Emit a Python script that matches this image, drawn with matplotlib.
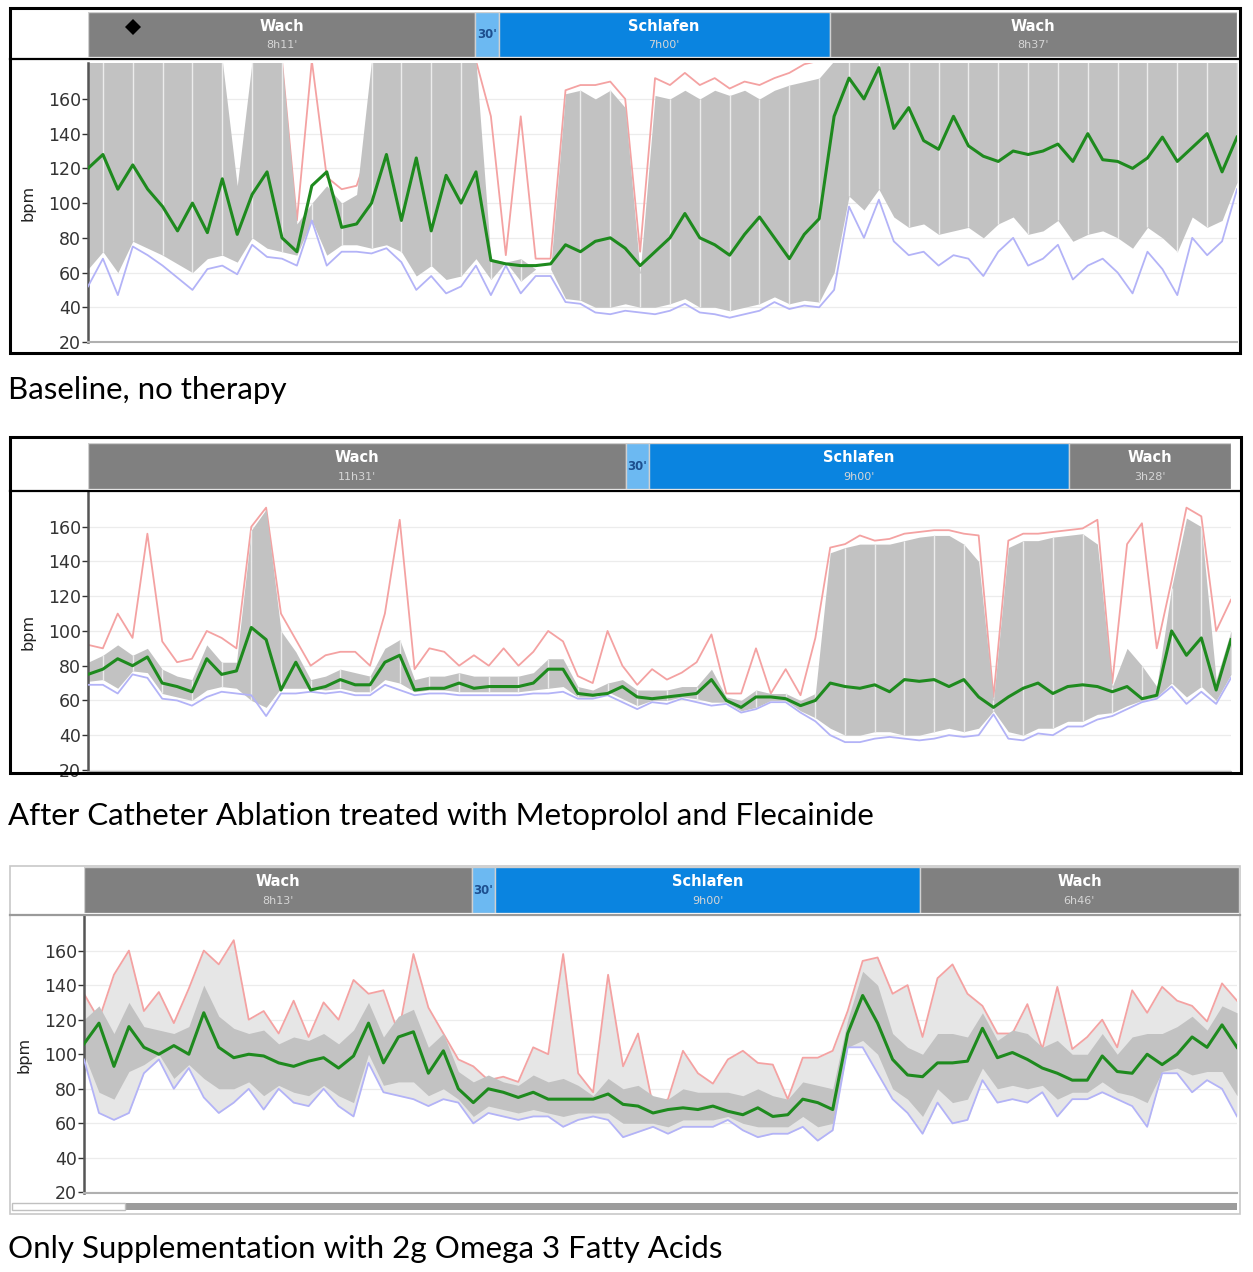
import numpy as np
import matplotlib
matplotlib.use("Agg")
import matplotlib.pyplot as plt
from matplotlib.patches import Rectangle

W, H = 1253, 1272

# ---- header segments (label, minutes, duration text) ----
seg_names = ["Wach", "30'", "Schlafen", "Wach"]
p1_minutes = [491, 30, 420, 517]
p1_dur_text = ["8h11'", "", "7h00'", "8h37'"]
p2_minutes = [691, 30, 540, 208]
p2_dur_text = ["11h31'", "", "9h00'", "3h28'"]
p3_minutes = [493, 30, 540, 406]
p3_dur_text = ["8h13'", "", "9h00'", "6h46'"]
p1_event_min = 57  # diamond marker in the header

# ---- panel 1: baseline, no therapy (bpm) ----
p1_mean = [120, 128, 108, 122, 108, 98, 84, 100, 83, 114,
           82, 105, 118, 80, 72, 110, 118, 86, 88, 100,
           128, 90, 126, 84, 116, 100, 118, 67, 65, 64,
           64, 65, 76, 72, 78, 80, 74, 64, 72, 80,
           94, 80, 76, 70, 82, 92, 80, 68, 82, 91,
           150, 172, 160, 178, 143, 155, 136, 131, 150, 133,
           127, 124, 130, 128, 130, 134, 124, 140, 125, 124,
           120, 126, 138, 124, 132, 140, 118, 138]
p1_max = [182, 182, 182, 182, 182, 182, 182, 182, 182, 182,
          182, 182, 182, 182, 90, 182, 115, 108, 110, 135,
          182, 182, 182, 182, 182, 182, 182, 150, 70, 150,
          68, 68, 165, 168, 168, 170, 160, 72, 172, 168,
          175, 168, 172, 166, 170, 168, 172, 175, 180, 182,
          182, 182, 182, 182, 182, 182, 182, 182, 182, 182,
          182, 182, 182, 182, 182, 182, 182, 182, 182, 182,
          182, 182, 182, 182, 182, 182, 182, 182]
p1_min = [52, 68, 47, 75, 70, 64, 57, 50, 62, 64,
          59, 76, 69, 68, 64, 90, 64, 72, 72, 71,
          74, 66, 50, 58, 48, 52, 64, 47, 64, 48,
          58, 58, 43, 42, 37, 36, 38, 37, 36, 38,
          42, 37, 36, 34, 36, 38, 43, 39, 41, 40,
          50, 98, 80, 102, 78, 70, 72, 64, 70, 68,
          58, 72, 80, 64, 68, 76, 56, 64, 68, 60,
          48, 72, 62, 47, 80, 70, 78, 108]
p1_band_hi = [182, 182, 182, 182, 182, 182, 182, 182, 182, 182,
              110, 182, 182, 182, 88, 100, 110, 100, 105, 182,
              182, 182, 182, 182, 182, 182, 182, 68, 66, 68,
              62, 62, 163, 165, 160, 165, 155, 60, 162, 160,
              165, 160, 165, 162, 165, 160, 165, 168, 170, 172,
              182, 182, 182, 182, 182, 182, 182, 182, 182, 182,
              182, 182, 182, 182, 182, 182, 182, 182, 182, 182,
              182, 182, 182, 182, 182, 182, 182, 182]
p1_band_lo = [62, 72, 60, 78, 74, 70, 65, 60, 68, 70,
              66, 80, 74, 72, 70, 90, 70, 76, 76, 74,
              76, 72, 58, 64, 56, 58, 68, 56, 66, 55,
              62, 62, 45, 44, 40, 40, 42, 40, 40, 42,
              45, 40, 40, 38, 40, 42, 46, 42, 44, 43,
              60, 104, 96, 108, 92, 86, 88, 82, 84, 86,
              80, 88, 92, 82, 84, 90, 78, 82, 84, 80,
              74, 86, 80, 72, 92, 86, 90, 112]

# ---- panel 2: after ablation, metoprolol + flecainide ----
p2_mean = [75, 78, 84, 80, 85, 70, 68, 65, 84, 75,
           77, 102, 95, 66, 82, 66, 68, 72, 69, 69,
           82, 86, 66, 67, 67, 70, 67, 68, 68, 68,
           70, 78, 78, 64, 63, 64, 68, 62, 61, 62,
           63, 64, 72, 60, 56, 62, 62, 61, 57, 60,
           70, 68, 67, 69, 65, 72, 71, 72, 68, 72,
           62, 56, 62, 67, 70, 64, 68, 69, 68, 65,
           68, 61, 63, 100, 86, 96, 66, 95]
p2_max = [92, 90, 110, 96, 156, 94, 82, 84, 100, 96,
          90, 160, 171, 110, 95, 80, 86, 88, 88, 80,
          110, 164, 78, 90, 88, 80, 86, 80, 90, 80,
          88, 100, 94, 74, 70, 100, 80, 69, 78, 72,
          76, 82, 98, 64, 64, 90, 64, 78, 63, 96,
          148, 150, 155, 152, 153, 156, 157, 158, 158, 156,
          155, 62, 152, 156, 156, 157, 158, 159, 164, 70,
          150, 162, 90, 129, 171, 166, 100, 118]
p2_min = [69, 69, 64, 75, 73, 61, 60, 57, 62, 65,
          64, 63, 51, 64, 64, 65, 64, 65, 63, 63,
          69, 66, 63, 64, 64, 63, 63, 63, 63, 63,
          64, 64, 65, 61, 61, 63, 59, 55, 59, 58,
          61, 59, 57, 58, 53, 55, 59, 59, 53, 48,
          40, 36, 36, 38, 39, 38, 37, 38, 40, 39,
          40, 52, 38, 37, 41, 40, 45, 45, 49, 51,
          55, 59, 61, 68, 58, 65, 58, 73]
p2_band_hi = [82, 86, 92, 86, 90, 78, 74, 72, 92, 82,
              82, 158, 170, 100, 88, 72, 74, 78, 76, 74,
              90, 95, 72, 74, 74, 76, 74, 74, 74, 74,
              76, 84, 84, 68, 66, 70, 72, 66, 66, 66,
              68, 68, 78, 62, 60, 66, 64, 64, 60, 64,
              145, 148, 150, 150, 150, 152, 154, 155, 155, 150,
              140, 60, 148, 152, 152, 154, 155, 156, 150, 68,
              90, 80, 68, 125, 165, 160, 72, 100]
p2_band_lo = [71, 72, 67, 77, 76, 64, 62, 60, 66, 68,
              67, 60, 56, 67, 67, 67, 66, 67, 65, 65,
              72, 70, 65, 66, 66, 65, 65, 65, 65, 65,
              66, 67, 68, 62, 62, 65, 61, 57, 60, 60,
              62, 61, 59, 59, 54, 56, 60, 60, 54, 50,
              44, 40, 40, 42, 42, 40, 40, 42, 44, 42,
              44, 54, 42, 40, 44, 44, 48, 48, 52, 53,
              57, 60, 62, 70, 62, 68, 60, 75]

# ---- panel 3: 2 g omega-3 only ----
p3_mean = [106, 118, 93, 116, 104, 100, 105, 100, 124, 104,
           98, 100, 99, 95, 93, 96, 98, 92, 99, 118,
           95, 110, 113, 89, 102, 80, 72, 80, 78, 75,
           78, 74, 74, 74, 74, 77, 71, 70, 66, 68,
           69, 68, 70, 67, 65, 69, 64, 65, 74, 72,
           68, 112, 134, 118, 97, 88, 87, 95, 95, 96,
           115, 98, 101, 97, 92, 89, 85, 85, 99, 90,
           89, 100, 94, 100, 110, 104, 117, 104]
p3_max = [135, 120, 146, 160, 125, 136, 118, 138, 160, 152,
          166, 120, 125, 112, 131, 110, 130, 120, 143, 135,
          137, 112, 158, 127, 112, 97, 93, 85, 87, 84,
          104, 100, 158, 89, 78, 146, 93, 112, 70, 74,
          102, 89, 83, 97, 102, 95, 94, 74, 98, 98,
          102, 125, 154, 156, 135, 140, 110, 144, 152, 135,
          128, 112, 112, 129, 103, 139, 103, 110, 120, 104,
          137, 124, 139, 131, 128, 119, 141, 131]
p3_min = [97, 66, 62, 66, 89, 97, 80, 92, 75, 66,
          72, 80, 68, 80, 72, 70, 80, 70, 64, 95,
          78, 76, 74, 70, 74, 72, 60, 66, 64, 62,
          64, 64, 58, 62, 64, 62, 52, 55, 58, 54,
          58, 58, 58, 62, 56, 52, 54, 54, 58, 50,
          56, 104, 104, 89, 74, 66, 54, 72, 60, 62,
          85, 72, 74, 72, 78, 64, 74, 74, 78, 74,
          70, 58, 89, 89, 78, 85, 80, 64]
p3_band_hi = [120, 128, 112, 130, 116, 114, 112, 116, 140, 122,
              115, 112, 114, 106, 110, 108, 112, 106, 114, 130,
              110, 122, 126, 104, 112, 90, 84, 88, 84, 82,
              88, 84, 86, 82, 76, 86, 80, 82, 76, 74,
              80, 78, 78, 78, 76, 80, 76, 74, 84, 82,
              80, 120, 148, 140, 112, 104, 100, 112, 112, 110,
              124, 108, 114, 112, 104, 108, 100, 100, 112, 100,
              110, 112, 112, 116, 122, 114, 128, 124]
p3_band_lo = [100, 78, 74, 90, 94, 100, 86, 94, 86, 80,
              80, 84, 76, 82, 78, 76, 82, 76, 72, 100,
              82, 84, 84, 76, 80, 74, 64, 70, 68, 66,
              68, 66, 64, 66, 66, 66, 60, 60, 60, 58,
              62, 62, 62, 64, 60, 58, 58, 58, 64, 58,
              60, 104, 108, 100, 80, 74, 64, 80, 72, 74,
              92, 80, 82, 80, 82, 74, 78, 78, 84, 78,
              76, 72, 90, 92, 88, 90, 90, 76]

captions = ["Baseline, no therapy",
            "After Catheter Ablation treated with Metoprolol and Flecainide",
            "Only Supplementation with 2g Omega 3 Fatty Acids"]

C_GRAY_HDR = "#808080"
C_SLEEP = "#0a84e0"
C_NAP = "#6cb9f2"
C_MAX = "#f4a2a2"
C_MIN = "#b3b3f7"
C_BAND = "#c2c2c2"
C_MEAN = "#1e8a1e"
seg_colors = [C_GRAY_HDR, C_NAP, C_SLEEP, C_GRAY_HDR]


def fbox(x0, y0, x1, y1):
    return [x0 / W, 1 - y1 / H, (x1 - x0) / W, (y1 - y0) / H]


fig = plt.figure(figsize=(W / 100, H / 100), dpi=100)
fig.patch.set_facecolor("white")


def panel(frame, header, plot, ylim, minutes, dur_text, mean, vmax, vmin,
          band_hi, band_lo, caption, cap_y, framed=True, light=False, event=None):
    total = sum(minutes)
    fx0, fy0, fx1, fy1 = frame
    # header strip
    hx0, hy0, hx1, hy1 = header
    ah = fig.add_axes(fbox(hx0, hy0, hx1, hy1))
    ah.set_xlim(0, total); ah.set_ylim(0, 1); ah.axis("off")
    start = 0
    for name, m, dt, col in zip(seg_names, minutes, dur_text, seg_colors):
        ah.add_patch(Rectangle((start, 0), m, 1, fc=col, ec="#d0d0d0", lw=1))
        mid = start + m / 2
        if name == "30'":
            ah.text(mid, 0.5, name, ha="center", va="center", fontsize=8.5,
                    fontweight="bold", color="#1d4f8f")
        else:
            ah.text(mid, 0.68, name, ha="center", va="center", fontsize=10.5,
                    fontweight="bold", color="white")
            ah.text(mid, 0.27, dt, ha="center", va="center", fontsize=8,
                    color="#d6d6d6")
        start += m
    if event is not None:
        ah.plot([event], [0.66], marker="D", ms=8, color="black", mew=0)
    sep = "black" if framed else "#9a9a9a"
    fig.add_artist(plt.Line2D([fx0 / W, fx1 / W], [1 - (hy1 + 2) / H] * 2,
                              color=sep, lw=1.6))

    # heart-rate plot
    ax = fig.add_axes(fbox(*plot))
    ax.set_xlim(0, total); ax.set_ylim(*ylim)
    x = lambda s: np.linspace(0, total, len(s))
    if light:
        ax.fill_between(x(vmax), vmin, vmax, color="#e6e6e6", lw=0, zorder=1)
    ax.plot(x(vmax), vmax, color=C_MAX, lw=1.3, zorder=2)
    xb = x(band_hi)
    ax.fill_between(xb, band_lo, band_hi, color=C_BAND, lw=0, zorder=2.5)
    if not light:
        # thin light streaks give the band its vertical-line texture
        ax.vlines(xb[1::2], band_lo[1::2], band_hi[1::2], color="#ececec",
                  lw=1.0, zorder=2.6)
    ax.plot(x(vmin), vmin, color=C_MIN, lw=1.3, zorder=3)
    ax.plot(x(mean), mean, color=C_MEAN, lw=2.2, zorder=4)
    ax.set_yticks(range(20, 161, 20))
    ax.grid(axis="y", color="#ececec", lw=0.9)
    ax.set_axisbelow(True)
    ax.set_xticks([])
    for s in ("top", "right"):
        ax.spines[s].set_visible(False)
    ax.spines["left"].set_color("#555555"); ax.spines["left"].set_linewidth(1.8)
    ax.spines["bottom"].set_color("#b0b0b0"); ax.spines["bottom"].set_linewidth(1.5)
    ax.tick_params(axis="y", length=4, width=1, pad=1, labelsize=12.5,
                   colors="#333333", direction="out")
    ax.set_ylabel("bpm", fontsize=11.5, color="#222222", labelpad=9)

    ec, lw = ("black", 2.2) if framed else ("#c8c8c8", 1.2)
    fig.add_artist(Rectangle((fx0 / W, 1 - fy1 / H), (fx1 - fx0) / W,
                             (fy1 - fy0) / H, transform=fig.transFigure,
                             fill=False, ec=ec, lw=lw))
    fig.text(8 / W, 1 - cap_y / H, caption, fontsize=22.5, family="Lato",
             va="center", ha="left", color="black")
    return ax


panel((10, 8, 1240, 353), (88, 12, 1237, 57), (88, 63, 1237, 342),
      (20.3, 180.7), p1_minutes, p1_dur_text, p1_mean, p1_max, p1_min,
      p1_band_hi, p1_band_lo, captions[0], 390, event=p1_event_min)
panel((10, 437, 1241, 773), (88, 443, 1231, 489), (88, 492, 1231, 772),
      (18.8, 180.0), p2_minutes, p2_dur_text, p2_mean, p2_max, p2_min,
      p2_band_hi, p2_band_lo, captions[1], 816)
panel((10, 866, 1240, 1214), (84, 867, 1239, 913), (84, 916, 1237, 1193),
      (19.7, 180.0), p3_minutes, p3_dur_text, p3_mean, p3_max, p3_min,
      p3_band_hi, p3_band_lo, captions[2], 1249, framed=False, light=True)

# scrollbar strip under panel 3
fig.add_artist(Rectangle((125 / W, 1 - 1210 / H), (1237 - 125) / W, 7 / H,
                         transform=fig.transFigure, fc="#9c9c9c", ec="none"))
fig.add_artist(Rectangle((12 / W, 1 - 1210 / H), (125 - 12) / W, 7 / H,
                         transform=fig.transFigure, fc="none", ec="#c0c0c0", lw=1))

fig.savefig("out.png", dpi=100)
